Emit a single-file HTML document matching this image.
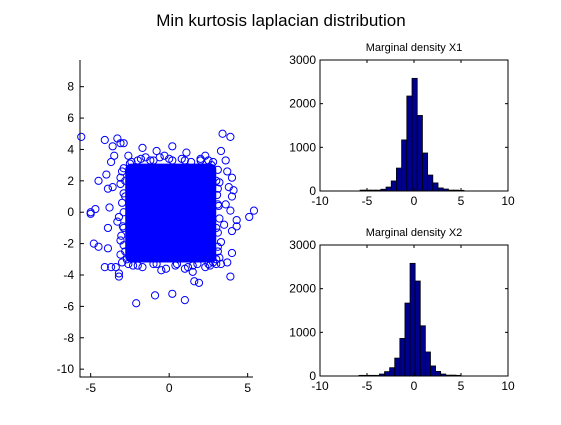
<!DOCTYPE html>
<html><head><meta charset="utf-8"><style>
body{margin:0;background:#fff;}
svg text{font-family:"Liberation Sans",Arial,sans-serif;}
</style></head><body>
<svg id="fig" width="561" height="420" xmlns="http://www.w3.org/2000/svg">
<rect width="561" height="420" fill="#fff"/>
<text x="281" y="26" font-size="17" text-anchor="middle">Min kurtosis laplacian distribution</text>
<g id="scatter"></g>
<g id="h1"></g>
<g id="h2"></g>
</svg>
<script>
// ---- scatter data ----
const outX = [-5.6,-4.1,-3.3,-3.1,-3.6,-2.9,-3.5,-3.7,-4.0,-4.5,-3.9,-3.6,-5.0,-5.0,-4.7,-3.8,-3.9,-4.8,-4.5,-3.9,-4.1,-3.7,-3.4,-3.2,-3.2,-2.1,-0.9,0.2,1.0,1.6,1.9,3.4,3.9,3.3,3.6,4.0,3.8,4.1,4.0,3.9,5.4,5.1,4.3,4.3,4.0,4.0,3.9,3.7,3.3,-1.7,-0.8,0.2,1.1,-0.3,2.3,-2.6,1.5,-0.5,1.0,3.7,-3.1,-3.1,-3.3,3.5,3.6,-2.9,-2.8,-2.9,-2.8,-2.7,-2.9,-2.8,-2.0,-1.0,0.0,1.0,2.0,2.8,3.0,3.1,3.0,3.1,3.0,3.1,-2.0,-1.0,0.5,1.5,2.5,-1.5,2.8,-2.6,
 -3.0,-3.1,-2.9,-3.0,-3.2,-2.95,-3.05,-2.9,-3.1,-3.0, 3.1,3.2,3.05,3.15,3.2,3.1,3.3,3.1,3.2,3.0, -2.4,-1.8,-1.2,-0.6,0.2,0.8,1.4,2.0,2.5, -2.3,-1.7,-0.8,-0.2,0.4,1.2,1.8,2.3,2.6,-2.5,2.7];
const outY = [4.8,4.6,4.7,4.4,4.2,4.4,3.6,3.2,2.4,2.0,1.5,1.6,0.0,-0.1,0.2,0.3,-1.0,-2.0,-2.2,-2.3,-3.5,-3.5,-3.5,-4.1,-3.9,-5.8,-5.3,-5.2,-5.6,-4.4,-4.5,5.0,4.8,3.9,3.3,2.2,1.6,1.4,1.0,0.1,0.1,-0.3,-0.5,-0.9,-1.2,-2.6,-4.1,-3.2,-3.3,4.1,3.9,4.2,3.8,3.6,3.6,3.6,-3.8,-3.7,-3.6,2.6,2.2,-1.8,-0.6,-0.8,0.5,2.8,1.0,-1.0,-2.5,-3.0,0.0,2.0,3.3,3.3,3.4,3.3,3.3,-3.2,2.0,0.5,-1.0,-2.2,-3.0,1.5,-3.4,-3.3,-3.3,-3.4,-3.3,3.5,3.2,-3.3,
 2.6,1.8,1.2,0.6,-0.3,-0.9,-1.5,-2.1,-2.7,-3.2, 2.7,1.9,1.1,0.4,-0.4,-1.3,-1.9,-2.5,-2.9,-3.3, 3.2,3.4,3.3,3.5,3.3,3.4,3.2,3.4,3.3, -3.4,-3.5,-3.3,-3.6,-3.4,-3.5,-3.3,-3.5,-3.4,3.1,3.0];
const coreX = [-2.8, 3.0];
const coreY = [-3.2, 3.1];
const sxTicks = [-5,0,5];
const syTicks = [-10,-8,-6,-4,-2,0,2,4,6,8];
// ---- histogram data ----
const h1Start = -5.74, h1Width = 0.553;
const h1Counts = [20,20,20,20,40,90,230,525,1170,2175,2580,1730,870,365,185,70,45,20,20,15];
const h2Start = -5.85, h2Width = 0.543;
const h2Counts = [15,15,15,15,45,100,190,410,860,1670,2580,2175,1150,550,230,105,45,20,20,15];
const hxTicks = [-10,-5,0,5,10];
const hyTicks = [0,1000,2000,3000];

const NS="http://www.w3.org/2000/svg";
function mk(parent,tag,attrs,text){const e=document.createElementNS(NS,tag);for(const k in attrs)e.setAttribute(k,attrs[k]);if(text!==undefined)e.textContent=text;parent.appendChild(e);return e;}

// scatter
(function(){
  const g=document.getElementById('scatter');
  const L=80,R=253,T=60,B=377, x0=-5.68,x1=5.34,y0=-10.5,y1=9.7;
  const sx=v=>L+(v-x0)/(x1-x0)*(R-L);
  const sy=v=>B-(v-y0)/(y1-y0)*(B-T);
  const core=mk(g,'rect',{x:sx(coreX[0]),y:sy(coreY[1]),width:sx(coreX[1])-sx(coreX[0]),height:sy(coreY[0])-sy(coreY[1]),rx:6,fill:'#0000ff'});
  
  
  for(let i=0;i<outX.length;i++){
    const c=mk(g,'circle',{cx:sx(outX[i]),cy:sy(outY[i]),r:3.6,fill:'none',stroke:'#0000ff','stroke-width':1});
    
    
  }
  const ax=mk(g,'path',{d:`M${L},${T}V${B}H${R}`,fill:'none',stroke:'#000','stroke-width':1});
  
  
  sxTicks.forEach(t=>{
    mk(g,'line',{x1:sx(t),x2:sx(t),y1:B,y2:B-4,stroke:'#000'});
    const tl=mk(g,'text',{x:sx(t),y:B+15,'font-size':12,'text-anchor':'middle'},String(t));
    
    
  });
  syTicks.forEach(t=>{
    mk(g,'line',{x1:L,x2:L+4,y1:sy(t),y2:sy(t),stroke:'#000'});
    const tl=mk(g,'text',{x:L-6,y:sy(t)+4,'font-size':12,'text-anchor':'end'},String(t));
    
    
  });
})();

function hist(id,T,B,start,w,counts,title){
  const g=document.getElementById(id);
  const L=320,R=508,x0=-10,x1=10,y0=0,y1=3000;
  const sx=v=>L+(v-x0)/(x1-x0)*(R-L);
  const sy=v=>B-(v-y0)/(y1-y0)*(B-T);
  const tt=mk(g,'text',{x:(L+R)/2,y:T-9,'font-size':11,'text-anchor':'middle'},title);
  
  
  counts.forEach((c,i)=>{
    const a=start+i*w;
    const r=mk(g,'rect',{x:sx(a),y:sy(c),width:sx(a+w)-sx(a),height:sy(0)-sy(c),fill:'#00008f',stroke:'#000','stroke-width':0.8});
    
    
  });
  const box=mk(g,'rect',{x:L,y:T,width:R-L,height:B-T,fill:'none',stroke:'#000','stroke-width':1});
  
  
  hxTicks.forEach(t=>{
    mk(g,'line',{x1:sx(t),x2:sx(t),y1:B,y2:B-3,stroke:'#000'});
    mk(g,'line',{x1:sx(t),x2:sx(t),y1:T,y2:T+3,stroke:'#000'});
    const tl=mk(g,'text',{x:sx(t),y:B+14,'font-size':12,'text-anchor':'middle'},String(t));
    
    
  });
  hyTicks.forEach(t=>{
    mk(g,'line',{x1:L,x2:L+3,y1:sy(t),y2:sy(t),stroke:'#000'});
    mk(g,'line',{x1:R,x2:R-3,y1:sy(t),y2:sy(t),stroke:'#000'});
    const tl=mk(g,'text',{x:L-4,y:sy(t)+4,'font-size':12,'text-anchor':'end'},String(t));
    
    
  });
}
hist('h1',60,191,h1Start,h1Width,h1Counts,'Marginal density X1');
hist('h2',245,376,h2Start,h2Width,h2Counts,'Marginal density X2');
</script>
</body></html>
